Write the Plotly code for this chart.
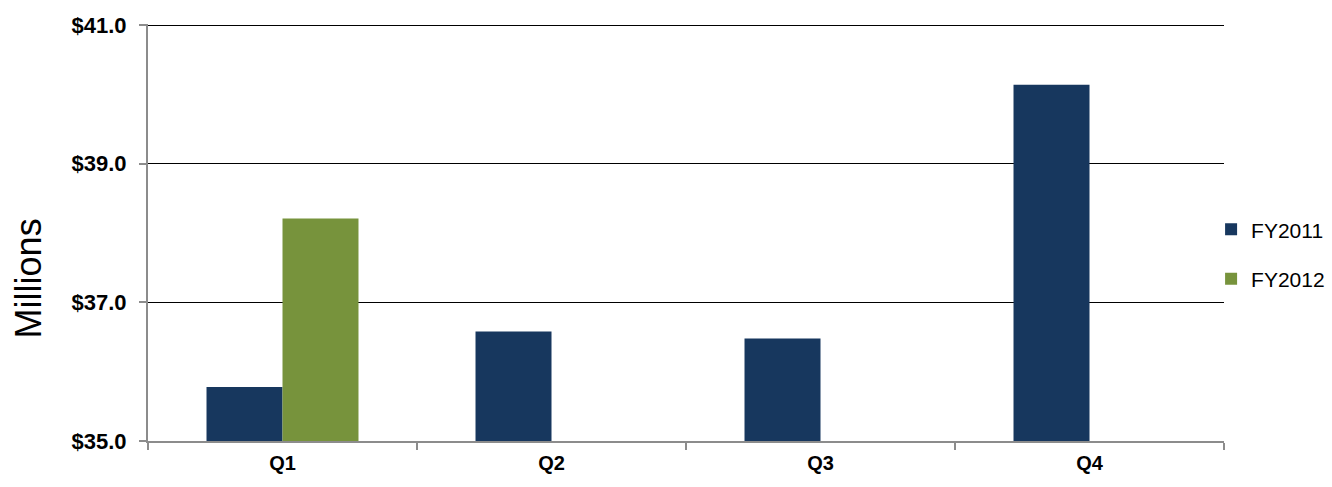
import plotly.graph_objects as go

categories = ["Q1", "Q2", "Q3", "Q4"]
fy2011 = [35.78, 36.58, 36.48, 40.14]
fy2012 = [38.21, 0, 0, 0]
y_ticks = [35, 37, 39, 41]
y_tick_labels = ["$35.0", "$37.0", "$39.0", "$41.0"]
y_title = "Millions"

fig = go.Figure()
fig.add_trace(go.Bar(x=categories, y=fy2011, name="FY2011", marker_color="#17375E",
                     marker_line_width=0, legendgroup="a"))
fig.add_trace(go.Bar(x=categories, y=fy2012, name="FY2012", marker_color="#77933C",
                     marker_line_width=0, legendgroup="b"))

fig.update_layout(
    width=1332, height=487,
    margin=dict(l=148, r=108, t=24, b=46, autoexpand=False),
    paper_bgcolor="white", plot_bgcolor="white",
    barmode="group", bargap=0.435, bargroupgap=0,
    font=dict(family="Liberation Sans, Arial, sans-serif", color="black"),
    legend=dict(x=0.988, xanchor="left", y=0.448, yanchor="middle",
                font=dict(size=21), tracegroupgap=19, itemwidth=30,
                bgcolor="rgba(0,0,0,0)"),
    showlegend=True,
)
fig.add_annotation(text=y_title, textangle=-90, xref="paper", yref="paper",
                   x=-0.1115, y=0.39, xanchor="center", yanchor="middle",
                   showarrow=False, font=dict(size=36))
fig.update_xaxes(
    showline=True, linecolor="#8C8C8C", linewidth=2,
    ticks="outside", tickson="boundaries", tickcolor="#8C8C8C", ticklen=7, tickwidth=2,
    tickfont=dict(size=20, weight="bold"),
    ticklabelstandoff=3,
    showgrid=False,
)
fig.update_yaxes(
    range=[35, 41.015], tickvals=y_ticks, ticktext=y_tick_labels,
    showline=True, linecolor="#8C8C8C", linewidth=2,
    ticks="outside", tickcolor="#8C8C8C", ticklen=7, tickwidth=2,
    tickfont=dict(size=22, weight="bold"),
    ticklabelstandoff=8,
    showgrid=True, gridcolor="black", gridwidth=1,
)
fig.write_html("out.html")
